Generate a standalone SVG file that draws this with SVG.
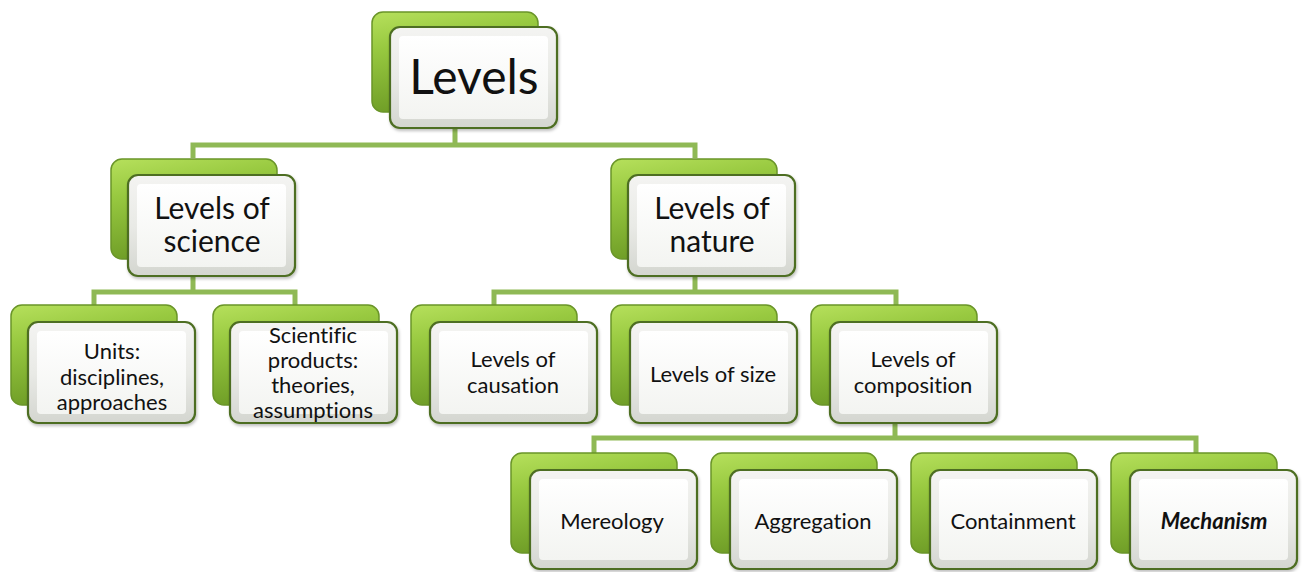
<svg xmlns="http://www.w3.org/2000/svg" width="1306" height="572" viewBox="0 0 1306 572">
<defs>
<linearGradient id="gBack" x1="0" y1="0" x2="0.3" y2="1">
<stop offset="0" stop-color="#b6e05c"/>
<stop offset="0.35" stop-color="#98c940"/>
<stop offset="1" stop-color="#6c9a25"/>
</linearGradient>
<linearGradient id="gFront" x1="0" y1="0" x2="0" y2="1">
<stop offset="0" stop-color="#f4f4f2"/>
<stop offset="0.5" stop-color="#e9eae6"/>
<stop offset="1" stop-color="#d4d6d0"/>
</linearGradient>
<linearGradient id="gInner" x1="0" y1="0" x2="0" y2="1">
<stop offset="0" stop-color="#ffffff"/>
<stop offset="1" stop-color="#f3f4f1"/>
</linearGradient>
<filter id="sh" x="-10%" y="-10%" width="130%" height="130%">
<feDropShadow dx="1" dy="2" stdDeviation="1.5" flood-color="#000" flood-opacity="0.25"/>
</filter>
</defs>
<style>
.back{fill:url(#gBack);stroke:#6a9529;stroke-width:1.5}
.front{fill:url(#gFront);stroke:#4d6e22;stroke-width:2.2;filter:url(#sh)}
.inner{fill:url(#gInner);stroke:none}
.conn{fill:none;stroke:#8fb955;stroke-width:5;stroke-linejoin:miter}
text{font-family:Lato,"Liberation Sans",sans-serif;fill:#111;text-anchor:middle;font-variant-ligatures:none}
.t1{font-size:48px}
.t2{font-size:30px}
.t3{font-size:22px}
.it{font-style:italic;font-weight:bold}
</style>
<rect width="1306" height="572" fill="#ffffff"/>
<g id="connectors">
<path class="conn" d="M455,128 V145 M193,158 V145 H695 V158"/>
<path class="conn" d="M193,277 V292 M94,305 V292 H295 V305"/>
<path class="conn" d="M695,277 V292 M494,305 V292 H896 V305"/>
<path class="conn" d="M895,423 V438 M594,453 V438 H1196 V453"/>
</g>
<g id="n-levels">
<rect class="back" x="372" y="12" width="166" height="100" rx="11"/>
<rect class="front" x="390" y="27" width="167" height="101" rx="10"/>
<rect class="inner" x="399" y="36" width="149" height="83" rx="4"/>
<text class="t1" x="474" y="94">Levels</text>
</g>
<g id="n-science">
<rect class="back" x="111" y="159" width="166" height="100" rx="11"/>
<rect class="front" x="128" y="175" width="167" height="101" rx="10"/>
<rect class="inner" x="137" y="184" width="149" height="83" rx="4"/>
<text class="t2" x="212" y="219">Levels of</text>
<text class="t2" x="212" y="252">science</text>
</g>
<g id="n-nature">
<rect class="back" x="611" y="159" width="166" height="100" rx="11"/>
<rect class="front" x="628" y="175" width="167" height="101" rx="10"/>
<rect class="inner" x="637" y="184" width="149" height="83" rx="4"/>
<text class="t2" x="712" y="219">Levels of</text>
<text class="t2" x="712" y="252">nature</text>
</g>
<g id="n-units">
<rect class="back" x="11" y="305" width="166" height="100" rx="11"/>
<rect class="front" x="28" y="322" width="167" height="101" rx="10"/>
<rect class="inner" x="37" y="331" width="149" height="83" rx="4"/>
<text class="t3" x="112" y="359">Units:</text>
<text class="t3" x="112" y="385">disciplines,</text>
<text class="t3" x="112" y="410">approaches</text>
</g>
<g id="n-products">
<rect class="back" x="213" y="305" width="166" height="100" rx="11"/>
<rect class="front" x="230" y="322" width="167" height="101" rx="10"/>
<rect class="inner" x="239" y="331" width="149" height="83" rx="4"/>
<text class="t3" x="313" y="343">Scientific</text>
<text class="t3" x="313" y="368">products:</text>
<text class="t3" x="313" y="393">theories,</text>
<text class="t3" x="313" y="418">assumptions</text>
</g>
<g id="n-causation">
<rect class="back" x="411" y="305" width="166" height="100" rx="11"/>
<rect class="front" x="430" y="322" width="167" height="101" rx="10"/>
<rect class="inner" x="439" y="331" width="149" height="83" rx="4"/>
<text class="t3" x="513" y="367">Levels of</text>
<text class="t3" x="513" y="393">causation</text>
</g>
<g id="n-size">
<rect class="back" x="611" y="305" width="166" height="100" rx="11"/>
<rect class="front" x="630" y="322" width="167" height="101" rx="10"/>
<rect class="inner" x="639" y="331" width="149" height="83" rx="4"/>
<text class="t3" x="713" y="382">Levels of size</text>
</g>
<g id="n-composition">
<rect class="back" x="811" y="305" width="166" height="100" rx="11"/>
<rect class="front" x="830" y="322" width="167" height="101" rx="10"/>
<rect class="inner" x="839" y="331" width="149" height="83" rx="4"/>
<text class="t3" x="913" y="367">Levels of</text>
<text class="t3" x="913" y="393">composition</text>
</g>
<g id="n-mereology">
<rect class="back" x="511" y="453" width="166" height="100" rx="11"/>
<rect class="front" x="530" y="470" width="167" height="99" rx="10"/>
<rect class="inner" x="539" y="479" width="149" height="81" rx="4"/>
<text class="t3" x="612" y="529">Mereology</text>
</g>
<g id="n-aggregation">
<rect class="back" x="711" y="453" width="166" height="100" rx="11"/>
<rect class="front" x="730" y="470" width="167" height="99" rx="10"/>
<rect class="inner" x="739" y="479" width="149" height="81" rx="4"/>
<text class="t3" x="813" y="529">Aggregation</text>
</g>
<g id="n-containment">
<rect class="back" x="911" y="453" width="166" height="100" rx="11"/>
<rect class="front" x="930" y="470" width="167" height="99" rx="10"/>
<rect class="inner" x="939" y="479" width="149" height="81" rx="4"/>
<text class="t3" x="1013" y="529">Containment</text>
</g>
<g id="n-mechanism">
<rect class="back" x="1111" y="453" width="166" height="100" rx="11"/>
<rect class="front" x="1130" y="470" width="167" height="99" rx="10"/>
<rect class="inner" x="1139" y="479" width="149" height="81" rx="4"/>
<text class="t3 it" x="1214" y="529">Mechanism</text>
</g>
</svg>
